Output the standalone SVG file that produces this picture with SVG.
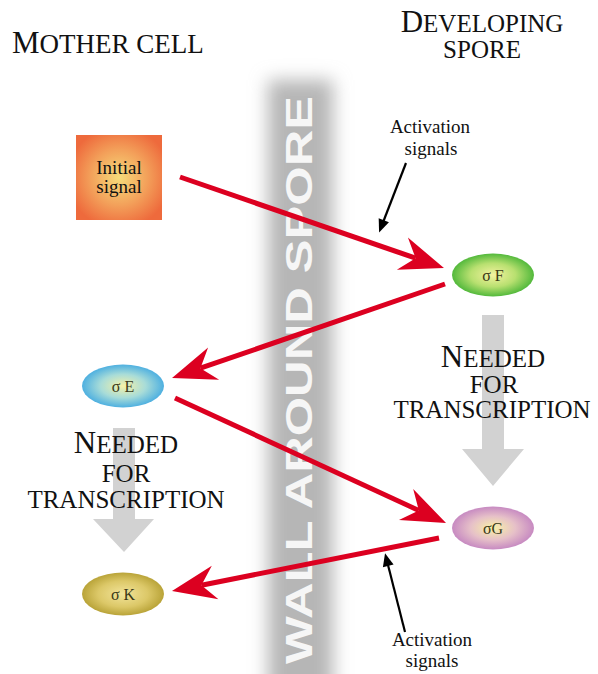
<svg xmlns="http://www.w3.org/2000/svg" width="598" height="674" viewBox="0 0 598 674">
<style>
.serif{font-family:"Liberation Serif","Times New Roman",serif;fill:#111}
.lbl{font-family:"Liberation Serif","Times New Roman",serif;fill:#3a3a18;font-size:16px;text-anchor:middle}
.red{stroke:#dc0020;stroke-width:5;fill:none}
.blk{stroke:#000;stroke-width:2.2;fill:none}
.gray{fill:#d2d2d2}
</style>
<defs>
<filter id="blur" x="-60%" y="-10%" width="220%" height="120%"><feGaussianBlur stdDeviation="9"/></filter>
<radialGradient id="gOrange" cx="50%" cy="50%" r="60%"><stop offset="0" stop-color="#f6dc7a"/><stop offset="0.55" stop-color="#f3a05a"/><stop offset="1" stop-color="#ee6a3c"/></radialGradient>
<radialGradient id="gGreen" cx="50%" cy="50%" r="55%"><stop offset="0" stop-color="#f4f2a0"/><stop offset="0.5" stop-color="#b8e070"/><stop offset="1" stop-color="#3cb030"/></radialGradient>
<radialGradient id="gBlue" cx="50%" cy="50%" r="55%"><stop offset="0" stop-color="#f6f2a8"/><stop offset="0.5" stop-color="#a8dcd8"/><stop offset="1" stop-color="#3aa6e2"/></radialGradient>
<radialGradient id="gPink" cx="50%" cy="50%" r="55%"><stop offset="0" stop-color="#f8f2a6"/><stop offset="0.5" stop-color="#e6c0c8"/><stop offset="1" stop-color="#c07ec0"/></radialGradient>
<radialGradient id="gOlive" cx="50%" cy="50%" r="55%"><stop offset="0" stop-color="#f2e49a"/><stop offset="0.55" stop-color="#dcc868"/><stop offset="1" stop-color="#b09a2c"/></radialGradient>
<marker id="redHead" markerUnits="userSpaceOnUse" markerWidth="50" markerHeight="40" viewBox="-46 -20 50 40" refX="-30" refY="0" orient="auto"><path d="M0,0 L-44,-17 L-30,0 L-44,17 Z" fill="#dc0020"/></marker>
<marker id="blkHead" markerUnits="userSpaceOnUse" markerWidth="16" markerHeight="14" viewBox="-14 -7 16 14" refX="-8" refY="0" orient="auto"><path d="M0,0 L-13,-5.5 L-13,5.5 Z" fill="#000"/></marker>
</defs>
<rect width="598" height="674" fill="#fff"/>

<g id="wall">
<rect x="268" y="80" width="65" height="640" fill="#b6b6b6" filter="url(#blur)"/>
<text transform="translate(312,380) rotate(-90)" text-anchor="middle" font-family="Liberation Sans,Arial,sans-serif" font-weight="bold" font-size="36" fill="#f6f6f6" textLength="568" lengthAdjust="spacingAndGlyphs">WALL AROUND SPORE</text>
</g>

<g id="title-mother">
<text class="serif" x="12" y="53"><tspan font-size="31">M</tspan><tspan font-size="27">OTHER CELL</tspan></text>
</g>
<g id="title-spore">
<text class="serif" x="482" y="32" text-anchor="middle"><tspan font-size="31">D</tspan><tspan font-size="25">EVELOPING</tspan></text>
<text class="serif" x="482" y="58" text-anchor="middle" font-size="25">SPORE</text>
</g>

<g id="gray-arrows">
<path class="gray" d="M482,315 H504 V449 H524 L493,486 L462,449 H482 Z"/>
<path class="gray" d="M113,428 H135 V519 H154 L124,552 L93,519 H113 Z"/>
</g>

<g id="needed-right">
<text class="serif" x="493" y="367" text-anchor="middle"><tspan font-size="31">N</tspan><tspan font-size="25">EEDED</tspan></text>
<text class="serif" x="494" y="393" text-anchor="middle" font-size="25">FOR</text>
<text class="serif" x="492" y="418" text-anchor="middle" font-size="25">TRANSCRIPTION</text>
</g>
<g id="needed-left">
<text class="serif" x="126" y="453" text-anchor="middle"><tspan font-size="31">N</tspan><tspan font-size="25">EEDED</tspan></text>
<text class="serif" x="126" y="482" text-anchor="middle" font-size="25">FOR</text>
<text class="serif" x="126" y="508" text-anchor="middle" font-size="25">TRANSCRIPTION</text>
</g>

<g id="initial-signal">
<rect x="76" y="135" width="86" height="85" fill="url(#gOrange)"/>
<text class="serif" x="119" y="174" text-anchor="middle" font-size="19" fill="#2a2010">Initial</text>
<text class="serif" x="119" y="193" text-anchor="middle" font-size="19" fill="#2a2010">signal</text>
</g>

<g id="sigmaF">
<ellipse cx="493" cy="275" rx="41" ry="21.5" fill="url(#gGreen)"/>
<text class="lbl" x="493" y="281">σ F</text>
</g>
<g id="sigmaE">
<ellipse cx="123" cy="386" rx="41" ry="21.5" fill="url(#gBlue)"/>
<text class="lbl" x="123" y="392">σ E</text>
</g>
<g id="sigmaG">
<ellipse cx="493" cy="528" rx="41" ry="21.5" fill="url(#gPink)"/>
<text class="lbl" x="493" y="534">σG</text>
</g>
<g id="sigmaK">
<ellipse cx="123" cy="594" rx="41" ry="21.5" fill="url(#gOlive)"/>
<text class="lbl" x="123" y="600">σ K</text>
</g>

<g id="act-top">
<text class="serif" x="430" y="133" text-anchor="middle" font-size="19">Activation</text>
<text class="serif" x="431" y="155" text-anchor="middle" font-size="19">signals</text>
</g>
<g id="act-bottom">
<text class="serif" x="432" y="646" text-anchor="middle" font-size="19">Activation</text>
<text class="serif" x="432" y="667" text-anchor="middle" font-size="19">signals</text>
</g>

<g id="connectors">
<line class="red" x1="180" y1="177" x2="415.6" y2="258.2" marker-end="url(#redHead)"/>
<line class="red" x1="445" y1="284" x2="200.4" y2="368.2" marker-end="url(#redHead)"/>
<line class="red" x1="175" y1="398" x2="418.8" y2="510.4" marker-end="url(#redHead)"/>
<line class="red" x1="439" y1="538" x2="201.4" y2="585.2" marker-end="url(#redHead)"/>
<line class="blk" x1="406" y1="163" x2="382" y2="225" marker-end="url(#blkHead)"/>
<line class="blk" x1="405" y1="632" x2="387" y2="561" marker-end="url(#blkHead)"/>
</g>
</svg>
